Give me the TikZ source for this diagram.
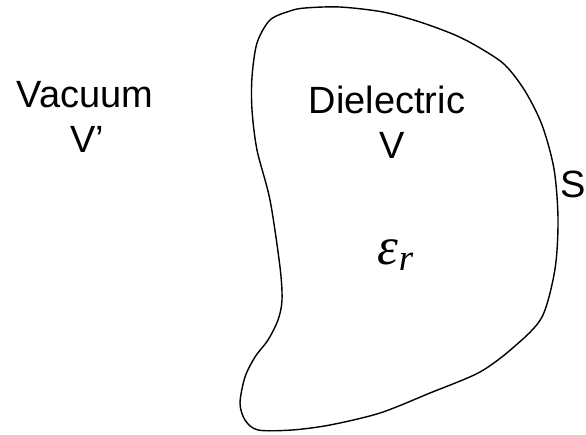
\documentclass[tikz,border=0pt]{standalone}
\usepackage{fontspec}
\setmainfont{Liberation Sans}
\newfontfamily\greekfont{Liberation Serif}
\tikzset{label text/.style={font=\fontsize{21.6}{26}\selectfont, inner sep=0pt, anchor=base}}
\begin{document}
\begin{tikzpicture}
  \useasboundingbox (0,0) rectangle (11.72,8.68);
  \draw[line width=0.8pt] plot[smooth cycle, tension=0.5] coordinates {
    (6.10,8.52) (6.80,8.54) (7.66,8.44) (8.40,8.24) (9.10,7.98)
    (9.60,7.72) (10.10,7.38) (10.50,6.86) (10.84,6.18) (11.08,5.30)
    (11.16,4.30) (11.10,3.30) (10.84,2.34) (10.30,1.76) (9.60,1.24)
    (8.60,0.82) (7.60,0.42) (6.60,0.18) (5.84,0.08) (5.16,0.08)
    (4.90,0.28) (4.80,0.62) (4.90,1.14) (5.10,1.54) (5.36,1.88)
    (5.56,2.28) (5.64,2.68) (5.60,3.34) (5.40,4.68) (5.14,5.68)
    (5.04,6.48) (5.04,7.14) (5.14,7.82) (5.40,8.28) (5.80,8.46)};
  \node[label text] (vacuum) at (1.70,6.54) {Vacuum};
  \node[label text] (outer) at (1.74,5.64) {V’};
  \node[label text] (dielectric) at (7.74,6.42) {Dielectric};
  \node[label text] (inner) at (7.84,5.52) {V};
  \node[label text, font=\greekfont\fontsize{30}{34}\selectfont\itshape] (eps) at (7.92,3.40) {ε\textsubscript{r}};
  \node[label text] (surface) at (11.46,4.74) {S};
\end{tikzpicture}
\end{document}
